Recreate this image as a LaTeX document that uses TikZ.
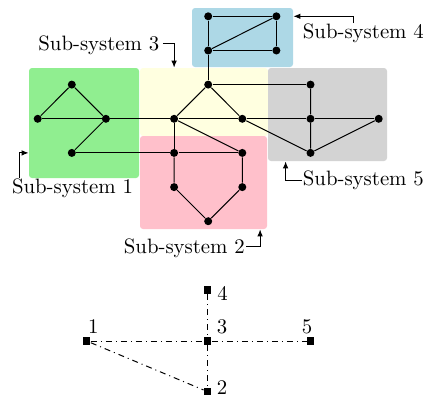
\documentclass[tikz,border=0pt]{standalone}
\usetikzlibrary{arrows.meta}
\definecolor{cgreen}{RGB}{144,238,144}
\definecolor{cyellow}{RGB}{255,255,224}
\definecolor{cblue}{RGB}{173,216,230}
\definecolor{cgray}{RGB}{211,211,211}
\definecolor{cpink}{RGB}{255,192,203}
\begin{document}
\begin{tikzpicture}[x=0.5pt,y=-0.5pt,
 dot/.style={circle,fill=black,inner sep=0pt,minimum size=4pt},
 sq/.style={rectangle,fill=black,inner sep=0pt,minimum size=3.7pt},
 region/.style={rectangle,rounded corners=1.5pt,inner sep=0pt},
 edge/.style={line width=0.5pt},
 lab/.style={inner sep=0pt,font=\fontsize{10.4pt}{12pt}\selectfont},
 ptr/.style={line width=0.5pt,-{Latex[length=3.5pt,width=2.8pt]}},
 link/.style={line width=0.5pt,dash dot}
]
\useasboundingbox (0,0) rectangle (428,398);
% regions
\node[region,fill=cyellow,minimum width=64pt,minimum height=34pt] (r3) at (204,102) {};
\node[region,fill=cgreen,minimum width=55pt,minimum height=55pt] (r1) at (84,123) {};
\node[region,fill=cblue,minimum width=50.5pt,minimum height=29.5pt] (r4) at (242.5,37.5) {};
\node[region,fill=cgray,minimum width=59.5pt,minimum height=46.5pt] (r5) at (327.5,114.5) {};
\node[region,fill=cpink,minimum width=63.5pt,minimum height=46.5pt] (r2) at (203.5,182.5) {};
% nodes
\node[dot] (s1a) at (71.8,84.6) {};
\node[dot] (s1b) at (37.7,118.8) {};
\node[dot] (s1c) at (105.9,118.8) {};
\node[dot] (s1d) at (71.8,152.9) {};
\node[dot] (s3a) at (174.1,118.8) {};
\node[dot] (s3b) at (208.2,84.6) {};
\node[dot] (s3c) at (242.3,118.8) {};
\node[dot] (s4a) at (208.2,16.3) {};
\node[dot] (s4b) at (276.4,16.3) {};
\node[dot] (s4c) at (208.2,50.5) {};
\node[dot] (s4d) at (276.4,50.5) {};
\node[dot] (s5a) at (310.5,84.6) {};
\node[dot] (s5b) at (310.5,118.8) {};
\node[dot] (s5c) at (378.7,118.8) {};
\node[dot] (s5d) at (310.5,152.9) {};
\node[dot] (s2a) at (174.1,152.9) {};
\node[dot] (s2b) at (242.3,152.9) {};
\node[dot] (s2c) at (174.1,187.1) {};
\node[dot] (s2d) at (242.3,187.1) {};
\node[dot] (s2e) at (208.2,221.2) {};
% edges
\draw[edge] (s1b) -- (s1a) -- (s1c) -- (s1d);
\draw[edge] (s1b) -- (s1c) -- (s3a) -- (s3c) -- (s5b) -- (s5c);
\draw[edge] (s1d) -- (s2a) -- (s2b);
\draw[edge] (s3a) -- (s3b) -- (s3c);
\draw[edge] (s3b) -- (s5a);
\draw[edge] (s3b) -- (s4c);
\draw[edge] (s3a) -- (s2b);
\draw[edge] (s3c) -- (s5d);
\draw[edge] (s3a) -- (s2a);
\draw[edge] (s4a) -- (s4b) -- (s4d) -- (s4c) -- (s4a);
\draw[edge] (s4c) -- (s4b);
\draw[edge] (s5a) -- (s5b) -- (s5d) -- (s5c);
\draw[edge] (s2a) -- (s2c) -- (s2e) -- (s2d) -- (s2b);
% labels
\node[lab] (l3) at (98.9,45) {Sub-system 3};
\node[lab] (l1) at (72.5,188) {Sub-system 1};
\node[lab] (l2) at (184.4,248) {Sub-system 2};
\node[lab] (l4) at (363.4,33) {Sub-system 4};
\node[lab] (l5) at (363.4,180) {Sub-system 5};
\draw[ptr] ([shift={(3,-2)}]l3.east) -| (r3.north -| s3a);
\draw[ptr] ([shift={(8,0)}]l1.north west) |- (r1.west |- s1d);
\draw[ptr] ([shift={(1,-1.5)}]l2.east) -| ([shift={(-7.3,0)}]r2.south east);
\draw[ptr] ([shift={(-10,0)}]l4.north) |- (r4.east |- s4b);
\draw[ptr] ([shift={(-1,0)}]l5.west) -| ([shift={(18,0)}]r5.south west);
% bottom graph
\node[sq] (n1) at (86.7,341) {};
\node[sq] (n3) at (207.7,341) {};
\node[sq] (n5) at (310.7,341) {};
\node[sq] (n4) at (207.7,290) {};
\node[sq] (n2) at (207.7,391.7) {};
\draw[link] (n1) -- (n3);
\draw[link] (n3) -- (n5);
\draw[link] (n4) -- (n3);
\draw[link] (n3) -- (n2);
\draw[link] (n1) -- (n2);
\node[lab] (t1) at (93.3,327) {1};
\node[lab] (t3) at (222,327) {3};
\node[lab] (t5) at (307,327) {5};
\node[lab] (t4) at (222.5,293) {4};
\node[lab] (t2) at (222,388) {2};
\end{tikzpicture}
\end{document}
